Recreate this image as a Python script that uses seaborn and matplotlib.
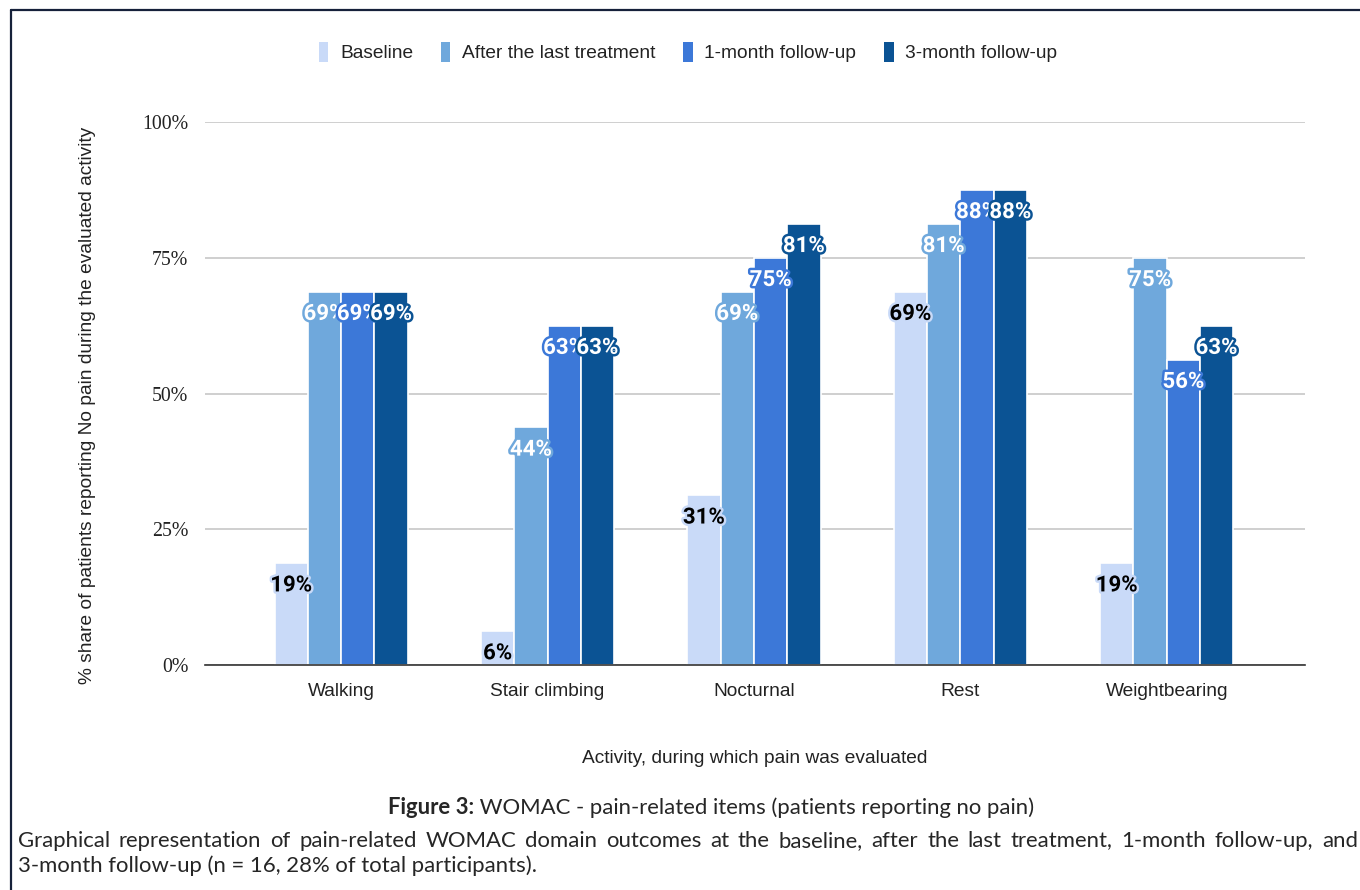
import matplotlib
matplotlib.use("Agg")
import matplotlib.pyplot as plt
import matplotlib.patheffects as pe
from matplotlib.patches import Patch
import seaborn as sns
import pandas as pd

categories = ["Walking", "Stair climbing", "Nocturnal", "Rest", "Weightbearing"]
series = ["Baseline", "After the last treatment", "1-month follow-up", "3-month follow-up"]
baseline = [18.75, 6.25, 31.25, 68.75, 18.75]
after_last = [68.75, 43.75, 68.75, 81.25, 75.0]
month1 = [68.75, 62.5, 75.0, 87.5, 56.25]
month3 = [68.75, 62.5, 81.25, 87.5, 62.5]
yticks = [0, 25, 50, 75, 100]
ytick_labels = ["0%", "25%", "50%", "75%", "100%"]
colors = ["#c9daf8", "#6fa8dc", "#3c78d8", "#0b5394"]
text_colors = ["#000000", "#ffffff", "#ffffff", "#ffffff"]

rows = []
for s, vals in zip(series, [baseline, after_last, month1, month3]):
    for c, v in zip(categories, vals):
        rows.append({"Activity": c, "Series": s, "Value": v})
df = pd.DataFrame(rows)

sns.set_theme(style="white")
plt.rcParams["font.family"] = ["Liberation Sans", "DejaVu Sans"]

W, H = 1360, 890
fig = plt.figure(figsize=(W / 100, H / 100), dpi=100)
ax = fig.add_axes([205 / W, 1 - 665 / H, (1305 - 205) / W, (665 - 122) / H])

sns.barplot(data=df, x="Activity", y="Value", hue="Series", order=categories,
            hue_order=series, palette=colors, width=0.645, saturation=1,
            edgecolor="white", linewidth=1.2, ax=ax, legend=False)

ax.set_xlim(-0.66, 4.67)
ax.set_ylim(0, 100)
ax.set_yticks(yticks)
ax.set_yticklabels(ytick_labels, fontfamily="Liberation Serif", fontsize=14.3, color="#222222")
ax.yaxis.grid(True, color="#cccccc", linewidth=1.3)
ax.set_axisbelow(True)
for sp in ["top", "right", "left"]:
    ax.spines[sp].set_visible(False)
ax.spines["bottom"].set_color("#333333")
ax.spines["bottom"].set_linewidth(1.2)
ax.tick_params(axis="both", length=0)
ax.tick_params(axis="y", pad=12)
ax.tick_params(axis="x", pad=13, labelsize=13.8, labelcolor="#222222")
ax.set_xlabel("Activity, during which pain was evaluated", fontsize=13.8, color="#222222", labelpad=36)
ax.set_ylabel("% share of patients reporting No pain during the evaluated activity",
              fontsize=13.8, color="#222222")
ax.yaxis.set_label_coords(-0.099, (665 - 405) / 543)

# data labels
for i, container in enumerate(ax.containers):
    for bar in container:
        v = bar.get_height()
        lab = f"{int(v + 0.5)}%"
        ax.annotate(lab, (bar.get_x() + bar.get_width() / 2, v), xytext=(0, -16),
                    textcoords="offset points", ha="center", va="center",
                    fontsize=16, fontweight="bold", fontfamily="Roboto",
                    color=text_colors[i],
                    path_effects=[pe.withStroke(linewidth=3.5, foreground=colors[i])])

# legend
handles = [Patch(facecolor=c, edgecolor="none") for c in colors]
fig.legend(handles, series, loc="center", bbox_to_anchor=(688 / W, 1 - 52 / H), ncol=4,
           frameon=False, fontsize=13.8, handlelength=0.5, handleheight=1.2,
           handletextpad=0.6, columnspacing=1.45, labelcolor="#222222")

# border lines
fig.add_artist(plt.Line2D([10.5 / W, 10.5 / W], [0, 1 - 9.5 / H], color="#16213a", linewidth=1.6))
fig.add_artist(plt.Line2D([10.5 / W, 1], [1 - 9.5 / H, 1 - 9.5 / H], color="#16213a", linewidth=1.6))

# caption
cap_font = "Lato"
cap_size = 15.9
renderer = fig.canvas.get_renderer()
t1 = fig.text(0, 0, "Figure 3:", fontsize=cap_size, fontfamily=cap_font, fontweight="bold",
              va="baseline")
t2 = fig.text(0, 0, " WOMAC - pain-related items (patients reporting no pain)", fontsize=cap_size,
              fontfamily=cap_font, va="baseline")
w1 = t1.get_window_extent(renderer).width
w2 = t2.get_window_extent(renderer).width
x0 = 711 - (w1 + w2) / 2
t1.set_position((x0 / W, 1 - 814 / H))
t2.set_position(((x0 + w1) / W, 1 - 814 / H))

line2 = ("Graphical representation of pain-related WOMAC domain outcomes at the baseline, "
         "after the last treatment, 1-month follow-up, and")
line3 = "3-month follow-up (n = 16, 28% of total participants)."
words = line2.split(" ")
texts = [fig.text(0, 1 - 847 / H, w, fontsize=cap_size, fontfamily=cap_font, va="baseline")
         for w in words]
widths = [t.get_window_extent(renderer).width for t in texts]
left, right = 18, 1358
gap = (right - left - sum(widths)) / (len(words) - 1)
x = left
for t, w in zip(texts, widths):
    t.set_x(x / W)
    x += w + gap
fig.text(left / W, 1 - 872 / H, line3, fontsize=cap_size, fontfamily=cap_font, va="baseline")

fig.savefig("out.png", dpi=100, facecolor="white")
